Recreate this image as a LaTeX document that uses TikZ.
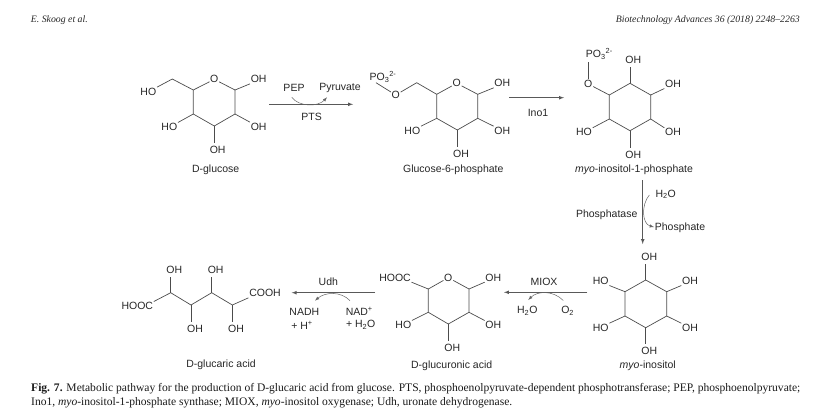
\documentclass[tikz,border=0pt]{standalone}
\usepackage{fontspec}
\setmainfont{Liberation Sans}
\newfontfamily\capfont{Liberation Serif}
\usetikzlibrary{arrows}

\begin{document}
\begin{tikzpicture}
					[x=1pt, y=-1pt,
						atomlabel/.style={inner sep=0.6pt, text=black!85, font=\fontsize{10.5}{12}\selectfont},
						namelabel/.style={inner sep=1pt, text=black!85, font=\fontsize{10.5}{12}\selectfont},
						bond/.style={draw=black!70, line width=0.7pt},
						mainarrow/.style={-latex, draw=black!65, line width=0.7pt},
						sidearrow/.style={-latex, draw=black!60, line width=0.5pt},
						captionline/.style={anchor=west, inner sep=0pt, text=black!90, font=\capfont\fontsize{11.55}{13}\selectfont},
						headerline/.style={inner sep=0pt, text=black!85, font=\capfont\itshape\fontsize{9.8}{11}\selectfont},
					]
					\useasboundingbox (0,0) rectangle (837,416);

					\node[headerline, anchor=west] (headerleft) at (30.7,20.5) {E. Skoog et al.};
					\node[headerline, anchor=east] (headerright) at (800,20.5) {Biotechnology Advances 36 (2018) 2248–2263};

					% D-glucose
					\node[atomlabel] (glcO) at (214.3,79.3) {O};
					\coordinate (glc1) at (235,90);
					\coordinate (glc2) at (235,114);
					\coordinate (glc3) at (214.3,126);
					\coordinate (glc4) at (193.3,114);
					\coordinate (glc5) at (193.3,90);
					\coordinate (glc6) at (172.3,79);
					\node[atomlabel] (glcOH1) at (258.7,79.3) {OH};
					\node[atomlabel] (glcOH2) at (258.7,126.7) {OH};
					\node[atomlabel] (glcOH3) at (217.7,150) {OH};
					\node[atomlabel] (glcOH4) at (169.3,127) {HO};
					\node[atomlabel] (glcOH6) at (148.3,91.7) {HO};
					\draw[bond] (glcO) -- (glc1) -- (glc2) -- (glc3) -- (glc4) -- (glc5) -- (glcO);
					\draw[bond] (glc1) -- (glcOH1.south west);
					\draw[bond] (glc2) -- (glcOH2.north west);
					\draw[bond] (glc3) -- (214.3,143) coordinate (glc3end);
					\draw[bond] (glc4) -- (glcOH4.north east);
					\draw[bond] (glc5) -- (glc6) -- (glcOH6.north east);
					\node[namelabel] (glcname) at (215.7,170) {D-glucose};

					% first step
					\coordinate (ptsstart) at (269.3,104.3);
					\coordinate (ptsend) at (353,104.3);
					\draw[mainarrow] (ptsstart) -- (ptsend);
					\node[atomlabel] (pep) at (294,87.7) {PEP};
					\node[atomlabel] (pyruvate) at (340,87.7) {Pyruvate};
					\node[atomlabel] (pts) at (311.7,117) {PTS};
					\coordinate (pepstart) at (291.7,97.3);
					\coordinate (pepend) at (327,97.3);
					\draw[sidearrow] (pepstart) .. controls (299,107) and (318,107) .. (pepend);

					% Glucose-6-phosphate
					\node[atomlabel] (gspO) at (456.7,83.3) {O};
					\coordinate (gsp1) at (477.7,94.3);
					\coordinate (gsp2) at (477.7,118.3);
					\coordinate (gsp3) at (457.3,130);
					\coordinate (gsp4) at (436.7,118.3);
					\coordinate (gsp5) at (436.7,94.3);
					\coordinate (gsp6) at (416.7,82.7);
					\node[atomlabel] (gspOH1) at (502.3,83.3) {OH};
					\node[atomlabel] (gspOH2) at (502.3,130.7) {OH};
					\node[atomlabel] (gspOH3) at (461,154.3) {OH};
					\node[atomlabel] (gspOH4) at (412.3,130.7) {HO};
					\node[atomlabel] (gspO6) at (395.7,95) {O};
					\node[atomlabel] (gspP) at (383,77) {PO\textsubscript{3}\textsuperscript{2-}};
					\draw[bond] (gspO) -- (gsp1) -- (gsp2) -- (gsp3) -- (gsp4) -- (gsp5) -- (gspO);
					\draw[bond] (gsp1) -- (gspOH1.south west);
					\draw[bond] (gsp2) -- (gspOH2.north west);
					\draw[bond] (gsp3) -- (457.3,147) coordinate (gsp3end);
					\draw[bond] (gsp4) -- (gspOH4.north east);
					\draw[bond] (gsp5) -- (gsp6) -- (gspO6);
					\draw[bond] (gspO6) -- (376,82.7) coordinate (gspPend);
					\node[namelabel] (gspname) at (453.3,170) {Glucose-6-phosphate};

					% second step
					\coordinate (inostart) at (509.3,97.7);
					\coordinate (inoend) at (564,97.7);
					\draw[mainarrow] (inostart) -- (inoend);
					\node[atomlabel] (ino) at (538,112.7) {Ino1};

					% myo-inositol-1-phosphate
					\coordinate (mipa) at (609.3,95);
					\coordinate (mipb) at (630,83.3);
					\coordinate (mipc) at (650.7,95);
					\coordinate (mipd) at (650.7,119);
					\coordinate (mipe) at (630,130.7);
					\coordinate (mipf) at (609.3,119);
					\node[atomlabel] (mipO) at (588.3,84) {O};
					\node[atomlabel] (mipP) at (599.3,54) {PO\textsubscript{3}\textsuperscript{2-}};
					\node[atomlabel] (mipOHb) at (633.3,60) {OH};
					\node[atomlabel] (mipOHc) at (673,84) {OH};
					\node[atomlabel] (mipOHd) at (673,132.3) {OH};
					\node[atomlabel] (mipOHe) at (633.3,155.3) {OH};
					\node[atomlabel] (mipOHf) at (584,132.3) {HO};
					\draw[bond] (mipa) -- (mipb) -- (mipc) -- (mipd) -- (mipe) -- (mipf) -- cycle;
					\draw[bond] (mipa) -- (mipO);
					\draw[bond] (mipO) -- (588.3,61.5) coordinate (mipPend);
					\draw[bond] (mipb) -- (630,67) coordinate (mipbend);
					\draw[bond] (mipc) -- (mipOHc.south west);
					\draw[bond] (mipd) -- (mipOHd.north west);
					\draw[bond] (mipe) -- (630,148) coordinate (mipeend);
					\draw[bond] (mipf) -- (mipOHf.north east);
					\node[namelabel] (mipname) at (634,170) {\textit{myo}-inositol-1-phosphate};

					% third step
					\coordinate (phosstart) at (642.7,180);
					\coordinate (phosend) at (642.7,244);
					\draw[mainarrow] (phosstart) -- (phosend);
					\node[atomlabel] (waterin) at (665.7,194.3) {H\textsubscript{2}O};
					\node[atomlabel] (phosphatase) at (606.7,214.3) {Phosphatase};
					\node[atomlabel] (phosphate) at (680,227.3) {Phosphate};
					\coordinate (waterstart) at (649.3,195);
					\coordinate (waterend) at (654,227);
					\draw[sidearrow] (waterstart) .. controls (641,205) and (642,224) .. (waterend);

					% myo-inositol
					\coordinate (inoa) at (645.7,280);
					\coordinate (inob) at (666.7,291.7);
					\coordinate (inoc) at (666.7,316);
					\coordinate (inod) at (645.7,327.7);
					\coordinate (inoe) at (625,316);
					\coordinate (inof) at (625,291.7);
					\node[atomlabel] (inoOHa) at (649.3,257.3) {OH};
					\node[atomlabel] (inoOHb) at (690,281) {OH};
					\node[atomlabel] (inoOHc) at (690,327.7) {OH};
					\node[atomlabel] (inoOHd) at (649.3,351) {OH};
					\node[atomlabel] (inoOHe) at (600.7,327.7) {HO};
					\node[atomlabel] (inoOHf) at (600.7,281) {HO};
					\draw[bond] (inoa) -- (inob) -- (inoc) -- (inod) -- (inoe) -- (inof) -- cycle;
					\draw[bond] (inoa) -- (645.7,264) coordinate (inoaend);
					\draw[bond] (inob) -- (inoOHb.south west);
					\draw[bond] (inoc) -- (inoOHc.north west);
					\draw[bond] (inod) -- (645.7,344) coordinate (inodend);
					\draw[bond] (inoe) -- (inoOHe.north east);
					\draw[bond] (inof) -- (inoOHf.south east);
					\node[namelabel] (inoname) at (647.7,365.5) {\textit{myo}-inositol};

					% fourth step
					\coordinate (mioxstart) at (587.3,292.3);
					\coordinate (mioxend) at (504,292.3);
					\draw[mainarrow] (mioxstart) -- (mioxend);
					\node[atomlabel] (miox) at (544,282.3) {MIOX};
					\node[atomlabel] (waterout) at (527.3,310.7) {H\textsubscript{2}O};
					\node[atomlabel] (oxygen) at (567.7,310.7) {O\textsubscript{2}};
					\coordinate (oxystart) at (563.3,300.5);
					\coordinate (oxyend) at (528.3,300);
					\draw[sidearrow] (oxystart) .. controls (553,290) and (537,291) .. (oxyend);

					% D-glucuronic acid
					\node[atomlabel] (gcaO) at (448.3,277.7) {O};
					\coordinate (gca1) at (469,289);
					\coordinate (gca2) at (469,312.3);
					\coordinate (gca3) at (448.3,324);
					\coordinate (gca4) at (428.3,312.3);
					\coordinate (gca5) at (428.3,289);
					\node[atomlabel] (gcaOH1) at (493.3,277.7) {OH};
					\node[atomlabel] (gcaOH2) at (493.3,325) {OH};
					\node[atomlabel] (gcaOH3) at (452.3,348.3) {OH};
					\node[atomlabel] (gcaOH4) at (403.3,325) {HO};
					\node[atomlabel] (gcaCOOH) at (395,277.7) {HOOC};
					\draw[bond] (gcaO) -- (gca1) -- (gca2) -- (gca3) -- (gca4) -- (gca5) -- (gcaO);
					\draw[bond] (gca1) -- (gcaOH1.south west);
					\draw[bond] (gca2) -- (gcaOH2.north west);
					\draw[bond] (gca3) -- (448.3,341) coordinate (gca3end);
					\draw[bond] (gca4) -- (gcaOH4.north east);
					\draw[bond] (gca5) -- (gcaCOOH.south east);
					\node[namelabel] (gcaname) at (451.7,366) {D-glucuronic acid};

					% fifth step
					\coordinate (udhstart) at (375,292.7);
					\coordinate (udhend) at (291.7,292.7);
					\draw[mainarrow] (udhstart) -- (udhend);
					\node[atomlabel] (udh) at (328.3,281.7) {Udh};
					\node[atomlabel] (nadh) at (304.3,311.7) {NADH};
					\node[atomlabel] (proton) at (302,325) {+ H\textsuperscript{+}};
					\node[atomlabel] (nad) at (359.3,311.7) {NAD\textsuperscript{+}};
					\node[atomlabel] (waterudh) at (360.7,325) {+ H\textsubscript{2}O};
					\coordinate (nadstart) at (350,300.7);
					\coordinate (nadend) at (315,300.7);
					\draw[sidearrow] (nadstart) .. controls (341,291) and (325,292) .. (nadend);

					% D-glucaric acid
					\coordinate (gla2) at (170.7,292.7);
					\coordinate (gla3) at (191,305);
					\coordinate (gla4) at (211.7,292.7);
					\coordinate (gla5) at (232.3,305);
					\node[atomlabel] (glaHOOC) at (137.3,306) {HOOC};
					\node[atomlabel] (glaCOOH) at (265,293.3) {COOH};
					\node[atomlabel] (glaOH2) at (174.3,270) {OH};
					\node[atomlabel] (glaOH3) at (195,329) {OH};
					\node[atomlabel] (glaOH4) at (215.7,270) {OH};
					\node[atomlabel] (glaOH5) at (236,329) {OH};
					\draw[bond] (glaHOOC.north east) -- (gla2) -- (gla3) -- (gla4) -- (gla5) -- (glaCOOH.south west);
					\draw[bond] (gla2) -- (170.7,276.5) coordinate (gla2end);
					\draw[bond] (gla3) -- (191,322) coordinate (gla3end);
					\draw[bond] (gla4) -- (211.7,276.5) coordinate (gla4end);
					\draw[bond] (gla5) -- (232.3,322) coordinate (gla5end);
					\node[namelabel] (glaname) at (221,365) {D-glucaric acid};

					\node[captionline] (captionone) at (31,388.5) {\textbf{Fig. 7.} Metabolic pathway for the production of D-glucaric acid from glucose. PTS, phosphoenolpyruvate-dependent phosphotransferase; PEP, phosphoenolpyruvate;};
					\node[captionline] (captiontwo) at (31,403) {Ino1, \textit{myo}-inositol-1-phosphate synthase; MIOX, \textit{myo}-inositol oxygenase; Udh, uronate dehydrogenase.};

				\end{tikzpicture}
\end{document}
